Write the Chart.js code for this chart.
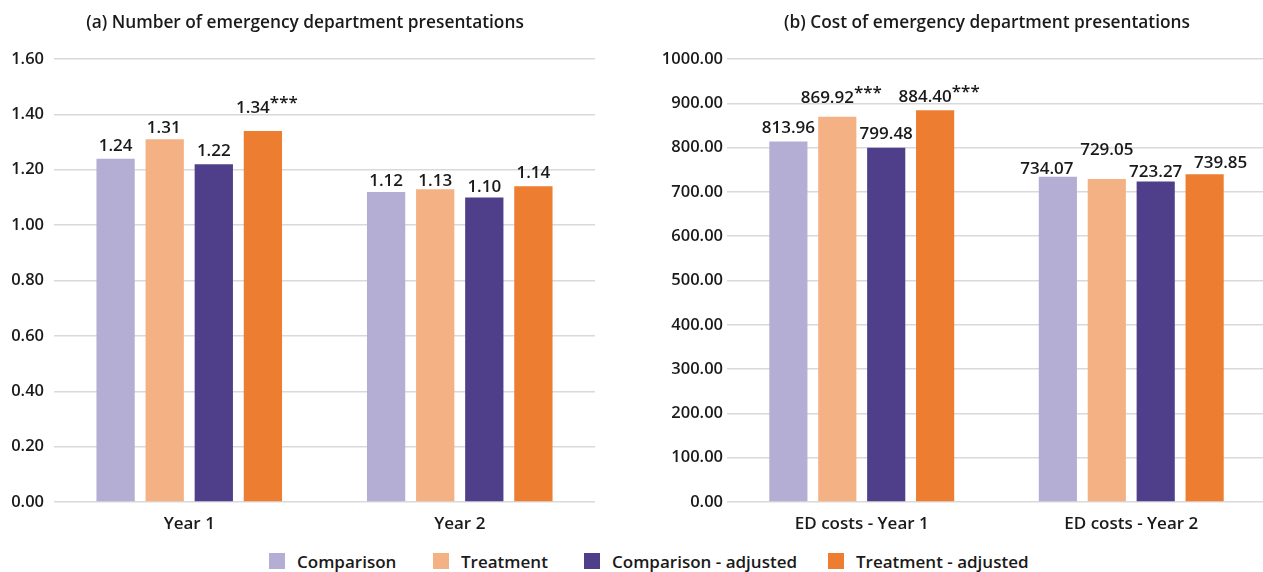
<!DOCTYPE html>
<html>
<head>
<meta charset="utf-8">
<title>Emergency department presentations</title>
<script src="https://cdn.jsdelivr.net/npm/chart.js@4"></script>
<style>
  html, body { margin: 0; padding: 0; background: #ffffff; overflow: hidden; }
  body { width: 1263px; height: 572px; position: relative; font-family: "Open Sans", sans-serif; }
  canvas { position: absolute; top: 0; }
  #countChart { left: 0; }
  #costChart { left: 650px; }
  #legend {
    position: absolute; left: 0; top: 552px; width: 1263px; height: 18px;
    font: 600 17px "Open Sans", sans-serif; color: #1a1a1a; white-space: nowrap;
  }
  .item { position: absolute; top: 0; height: 18px; display: flex; align-items: center; }
  .swatch { width: 16px; height: 16px; margin-right: 12px; }
</style>
</head>
<body>
<canvas id="countChart" width="610" height="540"></canvas>
<canvas id="costChart" width="674" height="540"></canvas>
<div id="legend"></div>
<script>
// Series names and colours
const seriesNames = ['Comparison', 'Treatment', 'Comparison - adjusted', 'Treatment - adjusted'];
const seriesColors = ['#b4aed5', '#f4b183', '#4f3f8a', '#ed7d31'];

// (a) Number of emergency department presentations
const countCategories = ['Year 1', 'Year 2'];
const countComparison = [1.24, 1.12];
const countTreatment = [1.31, 1.13];
const countComparisonAdj = [1.22, 1.10];
const countTreatmentAdj = [1.34, 1.14];
const countStars = [['', ''], ['', ''], ['', ''], ['***', '']];

// (b) Cost of emergency department presentations
const costCategories = ['ED costs - Year 1', 'ED costs - Year 2'];
const costComparison = [813.96, 734.07];
const costTreatment = [869.92, 729.05];
const costComparisonAdj = [799.48, 723.27];
const costTreatmentAdj = [884.40, 739.85];
const costStars = [['', ''], ['***', ''], ['', ''], ['***', '']];

// Per-label offsets [dx, extra lift] so neighbouring labels do not collide
const countLabelNudge = [[[0, 1], [0, -1]], [[-1, -1], [0, -3.5]], [[0, 1.5], [0, -2]], [[4, 11], [0, 1.5]]];
const costLabelNudge = [[[0, 1], [-11, -4]], [[4, 7], [0, 17]], [[0, 2], [0, -2]], [[4, 1.5], [16, -1]]];

// Legend item positions along the bottom row
const legendLeft = [269, 433, 584, 828];

const FONT = '"Open Sans", sans-serif';
const TEXT = '#1a1a1a';

// Value labels above each bar, with significance stars raised after the number
const valueLabels = {
  id: 'valueLabels',
  afterDatasetsDraw(chart, args, opts) {
    const ctx = chart.ctx;
    ctx.save();
    ctx.font = `600 ${opts.size}px ${FONT}`;
    ctx.fillStyle = opts.color;
    ctx.textBaseline = 'alphabetic';
    ctx.textAlign = 'left';
    chart.data.datasets.forEach((ds, si) => {
      chart.getDatasetMeta(si).data.forEach((bar, ci) => {
        const text = ds.data[ci].toFixed(2);
        const stars = opts.stars[si][ci];
        const [dx, lift] = opts.nudge[si][ci];
        const w1 = ctx.measureText(text).width;
        const w2 = stars ? ctx.measureText(stars).width : 0;
        const left = bar.x - (w1 + w2) / 2 + dx;
        const base = bar.y - opts.gap - lift;
        ctx.fillText(text, left, base);
        if (stars) ctx.fillText(stars, left + w1, base - opts.raise);
      });
    });
    ctx.restore();
  }
};

// Panel heading, centred on a given x within the canvas
const panelTitle = {
  id: 'panelTitle',
  afterDraw(chart, args, opts) {
    const ctx = chart.ctx;
    ctx.save();
    ctx.font = `600 ${opts.size}px ${FONT}`;
    ctx.fillStyle = opts.color;
    ctx.textAlign = 'center';
    ctx.textBaseline = 'alphabetic';
    ctx.fillText(opts.text, opts.x, opts.baseline);
    ctx.restore();
  }
};

function buildChart(id, title, titleX, categories, values, yMax, yStep, axisWidth, tickPad, padRight, stars, nudge) {
  return new Chart(document.getElementById(id), {
    type: 'bar',
    data: {
      labels: categories,
      datasets: values.map((v, i) => ({
        label: seriesNames[i],
        data: v,
        backgroundColor: seriesColors[i],
        borderWidth: 0,
        categoryPercentage: 0.726,
        barPercentage: 0.78
      }))
    },
    options: {
      responsive: false,
      animation: false,
      devicePixelRatio: 1,
      layout: { padding: { left: 0, right: padRight, top: 59, bottom: 0 } },
      plugins: {
        legend: { display: false },
        tooltip: { enabled: false },
        title: { display: false },
        panelTitle: { text: title, x: titleX, baseline: 28, size: 17.3, color: TEXT },
        valueLabels: { size: 17, color: TEXT, gap: 7, raise: 5, stars: stars, nudge: nudge }
      },
      scales: {
        x: {
          grid: { display: false },
          border: { display: false },
          ticks: { color: TEXT, font: { family: FONT, size: 17, weight: '600' }, padding: 4 },
          afterFit(scale) { scale.height = 38; }
        },
        y: {
          min: 0,
          max: yMax,
          grid: { color: '#d9d9d9', lineWidth: 1.5, drawTicks: false },
          border: { display: false },
          ticks: {
            stepSize: yStep,
            color: TEXT,
            padding: tickPad,
            font: { family: FONT, size: 16.5, weight: '600' },
            callback: (v) => Number(v).toFixed(2)
          },
          afterFit(scale) { scale.width = axisWidth; }
        }
      }
    },
    plugins: [valueLabels, panelTitle]
  });
}

buildChart('countChart', '(a) Number of emergency department presentations', 305, countCategories,
  [countComparison, countTreatment, countComparisonAdj, countTreatmentAdj],
  1.6, 0.2, 54, 10, 15, countStars, countLabelNudge);

buildChart('costChart', '(b) Cost of emergency department presentations', 337, costCategories,
  [costComparison, costTreatment, costComparisonAdj, costTreatmentAdj],
  1000, 100, 77, 4, 58, costStars, costLabelNudge);

// Shared legend across both panels
const legend = document.getElementById('legend');
seriesNames.forEach((name, i) => {
  const item = document.createElement('div');
  item.className = 'item';
  item.style.left = legendLeft[i] + 'px';
  const sw = document.createElement('span');
  sw.className = 'swatch';
  sw.style.background = seriesColors[i];
  const label = document.createElement('span');
  label.textContent = name;
  item.appendChild(sw);
  item.appendChild(label);
  legend.appendChild(item);
});
</script>
</body>
</html>
